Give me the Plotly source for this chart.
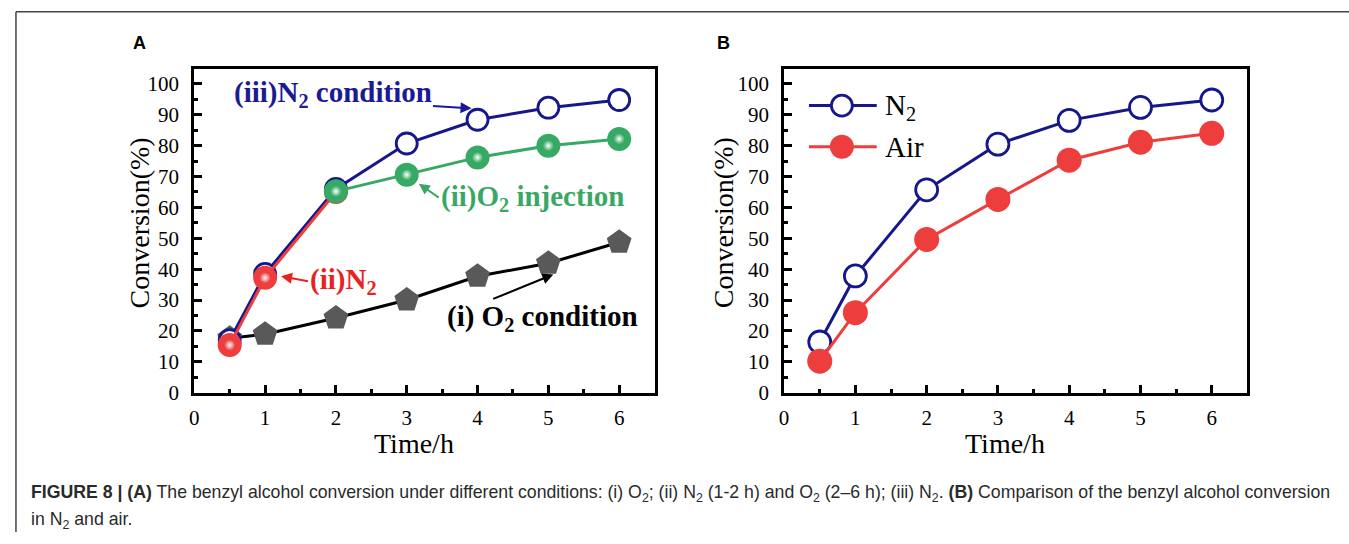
import plotly.graph_objects as go

W, H = 1349, 544

# ---------------- data ----------------
time_A_N2 = [0.5, 1, 2, 3, 4, 5, 6]
conv_A_N2 = [17.0, 38.5, 66.0, 80.7, 88.4, 92.3, 94.8]          # (iii) N2 condition

time_A_O2inj = [2, 3, 4, 5, 6]
conv_A_O2inj = [65.2, 70.6, 76.2, 80.0, 82.2]                    # (ii) O2 injection

time_A_N2part = [0.5, 1, 2]
conv_A_N2part = [15.4, 37.2, 65.0]                               # (ii) N2

time_A_O2 = [0.5, 1, 2, 3, 4, 5, 6]
conv_A_O2 = [17.6, 18.9, 24.2, 30.0, 37.7, 41.9, 48.7]           # (i) O2 condition

time_B = [0.5, 1, 2, 3, 4, 5, 6]
conv_B_N2 = [16.4, 37.8, 65.7, 80.5, 88.2, 92.4, 94.8]
conv_B_Air = [10.2, 25.9, 49.6, 62.6, 75.3, 81.1, 84.0]

x_ticks = [0, 1, 2, 3, 4, 5, 6]
y_ticks = [0, 10, 20, 30, 40, 50, 60, 70, 80, 90, 100]

NAVY = '#17178c'
RED = '#ee3d3d'
GREEN = '#36a964'
GRAY = '#595959'
SERIF = 'Liberation Serif'
SANS = 'Liberation Sans'

fig = go.Figure()

# ---------------- panel A ----------------
fig.add_trace(go.Scatter(x=time_A_O2, y=conv_A_O2, mode='lines+markers', xaxis='x', yaxis='y',
                         line=dict(color='black', width=3),
                         marker=dict(symbol='pentagon', size=26, color=GRAY, line=dict(width=0)),
                         showlegend=False))
fig.add_trace(go.Scatter(x=time_A_N2, y=conv_A_N2, mode='lines+markers', xaxis='x', yaxis='y',
                         line=dict(color=NAVY, width=3),
                         marker=dict(symbol='circle', size=21, color='white', line=dict(color=NAVY, width=2.8)),
                         showlegend=False))
fig.add_trace(go.Scatter(x=time_A_N2part, y=conv_A_N2part, mode='lines+markers', xaxis='x', yaxis='y',
                         line=dict(color=RED, width=3),
                         marker=dict(symbol='circle', size=24, color=RED, line=dict(width=0)),
                         showlegend=False))
fig.add_trace(go.Scatter(x=time_A_N2part, y=conv_A_N2part, mode='markers', xaxis='x', yaxis='y',
                         marker=dict(symbol='circle', size=11, color=RED, line=dict(width=0),
                                     gradient=dict(type='radial', color='white')),
                         showlegend=False, hoverinfo='skip'))
fig.add_trace(go.Scatter(x=time_A_O2inj, y=conv_A_O2inj, mode='lines+markers', xaxis='x', yaxis='y',
                         line=dict(color=GREEN, width=3),
                         marker=dict(symbol='circle', size=24, color=GREEN, line=dict(width=0)),
                         showlegend=False))
fig.add_trace(go.Scatter(x=time_A_O2inj, y=conv_A_O2inj, mode='markers', xaxis='x', yaxis='y',
                         marker=dict(symbol='circle', size=11, color=GREEN, line=dict(width=0),
                                     gradient=dict(type='radial', color='white')),
                         showlegend=False, hoverinfo='skip'))

# ---------------- panel B ----------------
fig.add_trace(go.Scatter(x=time_B, y=conv_B_N2, mode='lines+markers', xaxis='x2', yaxis='y2',
                         line=dict(color=NAVY, width=3),
                         marker=dict(symbol='circle', size=22, color='white', line=dict(color=NAVY, width=2.8)),
                         showlegend=False))
fig.add_trace(go.Scatter(x=time_B, y=conv_B_Air, mode='lines+markers', xaxis='x2', yaxis='y2',
                         line=dict(color=RED, width=3),
                         marker=dict(symbol='circle', size=25, color=RED, line=dict(width=0)),
                         showlegend=False))

tickfont = dict(family=SERIF, size=21, color='black')
titlefont = dict(family=SERIF, size=28, color='black')


def xax(domain):
    return dict(domain=domain, range=[0, 6.5], tickmode='array', tickvals=x_ticks,
                ticktext=[str(v) for v in x_ticks],
                ticks='inside', ticklen=8, tickwidth=3, tickcolor='black',
                minor=dict(ticks='inside', ticklen=4, tickwidth=3, tickcolor='black', dtick=0.5, tick0=0),
                showline=True, linewidth=3, linecolor='black', mirror=True,
                showgrid=False, zeroline=False, tickfont=tickfont, ticklabelstandoff=4)


def yax(domain, anchor):
    return dict(domain=domain, range=[0, 104.7], tickmode='array', tickvals=y_ticks,
                ticktext=[str(v) for v in y_ticks], anchor=anchor,
                ticks='inside', ticklen=8, tickwidth=3, tickcolor='black',
                minor=dict(ticks='inside', ticklen=4, tickwidth=3, tickcolor='black', dtick=5, tick0=0),
                showline=True, linewidth=3, linecolor='black', mirror=True,
                showgrid=False, zeroline=False, tickfont=tickfont, ticklabelstandoff=8)


ydom = [1 - 401.5 / H, 1 - 71 / H]
fig.update_layout(
    width=W, height=H, margin=dict(l=0, r=0, t=0, b=0),
    paper_bgcolor='white', plot_bgcolor='white',
    xaxis=dict(xax([190 / W, 652 / W]), anchor='y'),
    yaxis=yax(ydom, 'x'),
    xaxis2=dict(xax([782 / W, 1247 / W]), anchor='y2'),
    yaxis2=yax(ydom, 'x2'),
)

annfont = lambda c: dict(family=SERIF, size=29, color=c)
anns = [
    # panel A labels with arrows
    dict(x=3.915, y=92.1, xref='x', yref='y', text='<b>(iii)N<sub>2</sub> condition</b>',
         font=annfont('#1a1a96'), showarrow=True, ax=-240, ay=-14, xanchor='left', yanchor='middle',
         arrowhead=2, arrowsize=1.1, arrowwidth=2, arrowcolor='#1a1a96'),
    dict(x=3.17, y=67.7, xref='x', yref='y', text='<b>(ii)O<sub>2</sub> injection</b>',
         font=annfont('#3aa864'), showarrow=True, ax=20, ay=14, xanchor='left', yanchor='middle',
         arrowhead=2, arrowsize=1.1, arrowwidth=2, arrowcolor='#3aa864'),
    dict(x=5.07, y=38.3, xref='x', yref='y', text='<b>(i) O<sub>2</sub> condition</b>',
         font=annfont('black'), showarrow=True, ax=-108, ay=44, xanchor='left', yanchor='middle',
         arrowhead=2, arrowsize=1.1, arrowwidth=2, arrowcolor='black'),
    dict(x=1.225, y=37.7, xref='x', yref='y', text='<b>(ii)N<sub>2</sub></b>',
         font=annfont('#e8231f'), showarrow=True, ax=27, ay=5, xanchor='left', yanchor='middle',
         arrowhead=2, arrowsize=1.1, arrowwidth=2, arrowcolor='#e8231f'),
    # axis titles
    dict(x=3.1, y=1 - 454 / H, xref='x', yref='paper', text='Time/h', showarrow=False,
         font=titlefont, xanchor='center', yanchor='middle'),
    dict(x=3.1, y=1 - 454 / H, xref='x2', yref='paper', text='Time/h', showarrow=False,
         font=titlefont, xanchor='center', yanchor='middle'),
    dict(x=135 / W, y=1 - 228 / H, xref='paper', yref='paper', text='Conversion(%)', showarrow=False,
         font=dict(family=SERIF, size=28, color='black'), textangle=-90, xanchor='center', yanchor='middle'),
    dict(x=722 / W, y=1 - 228 / H, xref='paper', yref='paper', text='Conversion(%)', showarrow=False,
         font=dict(family=SERIF, size=28, color='black'), textangle=-90, xanchor='center', yanchor='middle'),
    # panel letters
    dict(x=135 / W, y=1 - 44 / H, xref='paper', yref='paper', text='<b>A</b>', showarrow=False,
         font=dict(family=SANS, size=18, color='black'), xanchor='center', yanchor='middle'),
    dict(x=721 / W, y=1 - 44 / H, xref='paper', yref='paper', text='<b>B</b>', showarrow=False,
         font=dict(family=SANS, size=18, color='black'), xanchor='center', yanchor='middle'),
    # legend text for panel B
    dict(x=881 / W, y=1 - 109 / H, xref='paper', yref='paper', text='N<sub>2</sub>', showarrow=False,
         font=dict(family=SERIF, size=29, color='black'), xanchor='left', yanchor='middle'),
    dict(x=881 / W, y=1 - 150 / H, xref='paper', yref='paper', text='Air', showarrow=False,
         font=dict(family=SERIF, size=29, color='black'), xanchor='left', yanchor='middle'),
    # caption
    dict(x=24 / W, y=1 - 505 / H, xref='paper', yref='paper', showarrow=False, xanchor='left', yanchor='middle',
         text='<b>FIGURE 8 | (A)</b> The benzyl alcohol conversion under different conditions: (i) O<sub>2</sub>; '
              '(ii) N<sub>2</sub> (1-2 h) and O<sub>2</sub> (2–6 h); (iii) N<sub>2</sub>. '
              '<b>(B)</b> Comparison of the benzyl alcohol conversion',
         font=dict(family=SANS, size=17.7, color='#2a2a2a')),
    dict(x=24 / W, y=1 - 532 / H, xref='paper', yref='paper', showarrow=False, xanchor='left', yanchor='middle',
         text='in N<sub>2</sub> and air.', font=dict(family=SANS, size=17.7, color='#2a2a2a')),
]
fig.update_layout(annotations=anns)

shapes = [
    # outer frame (top and left)
    dict(type='line', xref='paper', yref='paper', x0=11 / W, x1=1.0, y0=1 - 12 / H, y1=1 - 12 / H,
         line=dict(color='#444444', width=1.5)),
    dict(type='line', xref='paper', yref='paper', x0=11 / W, x1=11 / W, y0=0, y1=1 - 12 / H,
         line=dict(color='#444444', width=1.5)),
    # legend samples for panel B
    dict(type='line', xref='paper', yref='paper', x0=807 / W, x1=875 / W, y0=1 - 108 / H, y1=1 - 108 / H,
         line=dict(color=NAVY, width=3)),
    dict(type='circle', xref='paper', yref='paper', xsizemode='pixel', ysizemode='pixel',
         xanchor=840 / W, yanchor=1 - 108 / H, x0=-10.5, x1=10.5, y0=-10.5, y1=10.5,
         fillcolor='white', line=dict(color=NAVY, width=2.8)),
    dict(type='line', xref='paper', yref='paper', x0=807 / W, x1=875 / W, y0=1 - 150 / H, y1=1 - 150 / H,
         line=dict(color=RED, width=3)),
    dict(type='circle', xref='paper', yref='paper', xsizemode='pixel', ysizemode='pixel',
         xanchor=840 / W, yanchor=1 - 150 / H, x0=-12, x1=12, y0=-12, y1=12,
         fillcolor=RED, line=dict(width=0)),
]
fig.update_layout(shapes=shapes)

fig.write_html('out.html')
